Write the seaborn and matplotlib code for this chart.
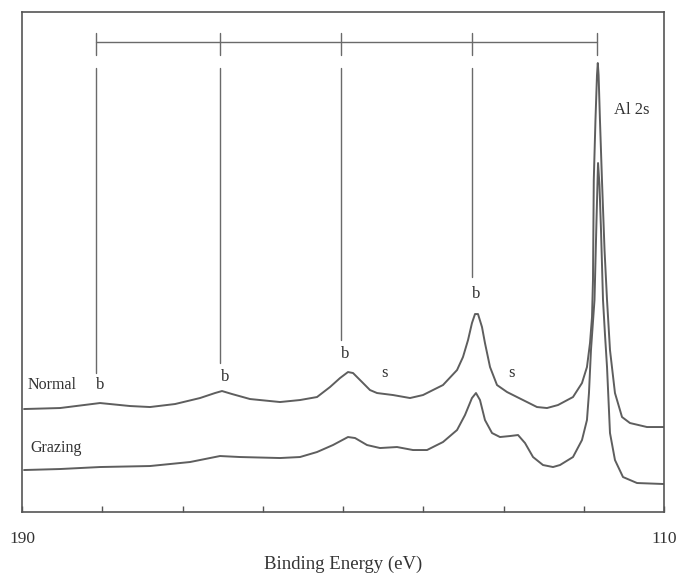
import matplotlib
matplotlib.use("Agg")
import matplotlib.pyplot as plt
import seaborn as sns
import pandas as pd

# ---- data (binding energy in eV, intensity in arbitrary units) ----
normal_energy = [189.75, 185.26, 180.28, 176.54, 174.05, 170.93, 167.82, 165.95, 165.08, 163.83,
                 161.59, 157.85, 155.36, 153.24, 151.62, 150.37, 149.38, 148.75, 147.63, 146.64,
                 145.76, 143.77, 141.65, 140.03, 138.79, 137.54, 135.79, 135.05, 134.42, 133.93,
                 133.55, 133.18, 132.68, 132.31, 131.68, 130.81, 129.56, 128.32, 127.07, 125.83,
                 124.58, 123.21, 121.34, 120.22, 119.60, 119.22, 118.97, 118.85, 118.75, 118.54,
                 118.35, 118.25, 118.15, 117.98, 117.73, 117.41, 117.10, 116.73, 116.11, 115.23,
                 114.24, 112.12, 110.00]
normal_intensity = [103, 104, 109, 106, 105, 108, 114, 119, 121, 118,
                    113, 110, 112, 115, 125, 134, 140, 139, 130, 122,
                    119, 117, 114, 117, 122, 127, 142, 155, 172, 189,
                    198, 198, 185, 169, 145, 127, 120, 115, 110, 105,
                    104, 107, 115, 129, 145, 169, 195, 232, 332, 392,
                    437, 449, 437, 392, 332, 262, 212, 162, 119, 95,
                    89, 85, 85]

grazing_energy = [189.75, 185.26, 180.28, 174.05, 169.07, 165.33, 162.83, 157.85, 155.36, 153.24,
                  151.25, 149.38, 148.50, 147.01, 145.39, 143.27, 141.28, 139.53, 138.29, 137.54,
                  135.79, 134.80, 133.93, 133.43, 132.93, 132.31, 131.43, 130.44, 129.19, 128.19,
                  127.32, 126.32, 125.08, 123.83, 122.96, 121.34, 120.22, 119.60, 119.35, 119.10,
                  118.66, 118.41, 118.22, 118.04, 117.85, 117.60, 117.35, 117.10, 116.73, 116.11,
                  115.11, 113.36, 110.00]
grazing_intensity = [42, 43, 45, 46, 50, 56, 55, 54, 55, 60,
                     67, 75, 74, 67, 64, 65, 62, 62, 67, 70,
                     82, 97, 114, 119, 112, 92, 79, 75, 76, 77,
                     69, 55, 47, 45, 47, 55, 72, 92, 119, 162,
                     212, 292, 349, 327, 282, 212, 177, 145, 79, 52,
                     35, 29, 28]

plasmon_energy = [180.8, 165.3, 150.2, 133.9, 118.3]      # bracket ticks (Al 2s + n bulk plasmons)
marker_line_bottom = [139, 149, 172, 235]                  # lower ends of the vertical marker lines
peak_labels = ["b", "b", "b", "b", "s", "s", "Al 2s"]
peak_label_energy = [180.3, 164.7, 149.75, 133.4, 144.8, 128.95, 114.0]
peak_label_intensity = [127, 135, 158, 218, 139, 139, 402]
series_names = ["Normal", "Grazing"]
x_tick_values = [190, 180, 170, 160, 150, 140, 130, 120, 110]
x_tick_labels = ["190", "", "", "", "", "", "", "", "110"]

df = pd.concat([
    pd.DataFrame({"energy": normal_energy, "intensity": normal_intensity, "series": "Normal"}),
    pd.DataFrame({"energy": grazing_energy, "intensity": grazing_intensity, "series": "Grazing"}),
])

sns.set_theme(style="white")
plt.rcParams["font.family"] = ["Liberation Serif", "DejaVu Serif"]

fig = plt.figure(figsize=(6.82, 5.80), dpi=100)
ax = fig.add_axes([0.0323, 0.1172, 0.9413, 0.862])

line_col = "#5e5e5e"
sns.lineplot(data=df, x="energy", y="intensity", hue="series", units="series",
             estimator=None, sort=False, palette={"Normal": line_col, "Grazing": line_col},
             linewidth=1.4, legend=False, ax=ax, solid_joinstyle="round")

# bracket of plasmon positions
mark_col = "#6a6a6a"
ax.plot([plasmon_energy[0], plasmon_energy[-1]], [470, 470], color=mark_col, lw=1.0)
for e in plasmon_energy:
    ax.plot([e, e], [457, 479], color=mark_col, lw=1.0)
for e, yb in zip(plasmon_energy[:4], marker_line_bottom):
    ax.plot([e, e], [yb, 444], color=mark_col, lw=1.0)

for t, e, i in zip(peak_labels, peak_label_energy, peak_label_intensity):
    ax.text(e, i, t, ha="center", va="center", fontsize=12, color="#333333")

ax.text(189.25, 127, series_names[0], ha="left", va="center", fontsize=11.5, color="#333333")
ax.text(189.0, 64, series_names[1], ha="left", va="center", fontsize=11.5, color="#333333")

ax.set_xlim(190, 110)
ax.set_ylim(0, 500)
ax.set_xticks(x_tick_values)
ax.set_xticklabels(x_tick_labels)
ax.set_yticks([])
ax.tick_params(axis="x", direction="in", length=4, width=1.0, color="#555555",
               pad=14, labelsize=12.5, labelcolor="#333333", bottom=True)
ax.set_xlabel("Binding Energy (eV)", fontsize=13.5, color="#333333", labelpad=6)
ax.set_ylabel("")
for s in ax.spines.values():
    s.set_color("#555555")
    s.set_linewidth(1.2)
    s.set_visible(True)

fig.savefig("out.png", dpi=100)
